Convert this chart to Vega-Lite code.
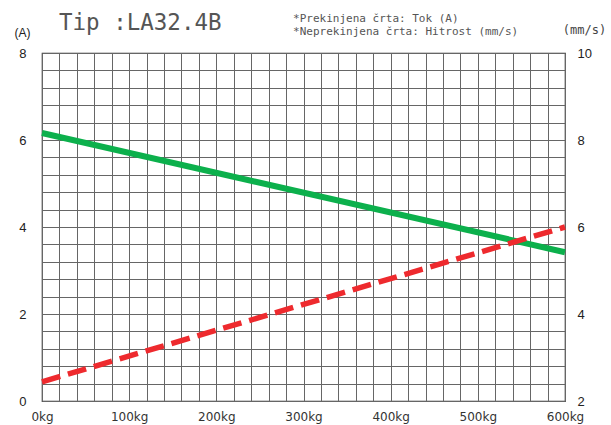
{
  "$schema": "https://vega.github.io/schema/vega-lite/v6.json",
  "width": 523,
  "height": 348,
  "autosize": {"type": "none"},
  "padding": {"left": 42, "top": 53, "right": 46, "bottom": 24},
  "background": "white",
  "config": {
    "font": "DejaVu Sans",
    "view": {"stroke": "#333", "strokeWidth": 1.2},
    "axis": {"labelFont": "DejaVu Sans", "titleFont": "DejaVu Sans", "labelColor": "#222", "titleColor": "#222"}
  },
  "datasets": {
    "current": [{"kg": 0, "a": 0.44}, {"kg": 600, "a": 4.0}],
    "speed": [{"kg": 0, "v": 8.16}, {"kg": 600, "v": 5.42}],
    "title": [{"t": "Tip :LA32.4B"}],
    "note1": [{"t": "*Prekinjena črta: Tok (A)"}],
    "note2": [{"t": "*Neprekinjena črta: Hitrost (mm/s)"}]
  },
  "layer": [
    {
      "data": {"name": "speed"},
      "mark": {"type": "line", "color": "#0cb04c", "strokeWidth": 6, "clip": false},
      "encoding": {
        "x": {
          "field": "kg", "type": "quantitative",
          "scale": {"domain": [0, 600], "nice": false},
          "axis": {
            "values": [0, 20, 40, 60, 80, 100, 120, 140, 160, 180, 200, 220, 240, 260, 280, 300, 320, 340, 360, 380, 400, 420, 440, 460, 480, 500, 520, 540, 560, 580, 600],
            "tickCount": 100,
            "labelExpr": "datum.value % 100 == 0 ? datum.value + 'kg' : ''",
            "labelOverlap": false,
            "labelBound": false,
            "labelFlush": false,
            "labelAlign": "center",
            "labelFontSize": 12,
            "labelFont": "DejaVu Sans",
            "labelColor": "#333",
            "labelPadding": 19,
            "labelBaseline": "alphabetic",
            "labelDx": 3,
            "grid": true,
            "gridColor": "#666",
            "gridOpacity": 1,
            "gridWidth": 1,
            "ticks": false,
            "domain": false,
            "title": null
          }
        },
        "y": {
          "field": "v", "type": "quantitative",
          "scale": {"domain": [2, 10], "nice": false, "zero": false},
          "axis": {
            "orient": "right",
            "values": [2, 4, 6, 8, 10],
            "grid": false,
            "ticks": false,
            "domain": false,
            "labelPadding": 12,
            "labelFontSize": 13,
            "labelFont": "Liberation Sans",
            "labelAlign": "left",
            "title": "(mm/s)",
            "titleFont": "DejaVu Sans Mono",
            "titleAngle": 0,
            "titleFontSize": 12,
            "titleFontWeight": "normal",
            "titleAlign": "center",
            "titleBaseline": "alphabetic",
            "titleX": 19,
            "titleY": -20,
            "titleColor": "#444"
          }
        }
      }
    },
    {
      "layer": [
        {
          "data": {"name": "current"},
          "mark": {"type": "line", "color": "#ee2a2e", "strokeWidth": 5.5, "strokeDash": [19, 8], "clip": false},
          "encoding": {
            "x": {"field": "kg", "type": "quantitative"},
            "y": {
              "field": "a", "type": "quantitative",
              "scale": {"domain": [0, 8], "nice": false},
              "axis": {
                "values": [0, 0.4, 0.8, 1.2, 1.6, 2, 2.4, 2.8, 3.2, 3.6, 4, 4.4, 4.8, 5.2, 5.6, 6, 6.4, 6.8, 7.2, 7.6, 8],
                "tickCount": 100,
                "labelExpr": "datum.value % 2 == 0 ? format(datum.value, 'd') : ''",
                "labelOverlap": false,
                "labelFontSize": 13,
                "labelFont": "Liberation Sans",
                "labelPadding": 16,
                "grid": true,
                "gridColor": "#666",
                "gridOpacity": 1,
                "gridWidth": 1,
                "ticks": false,
                "domain": false,
                "title": "(A)",
                "titleFont": "Liberation Sans",
                "titleAngle": 0,
                "titleFontSize": 12,
                "titleFontWeight": "normal",
                "titleAlign": "center",
                "titleBaseline": "alphabetic",
                "titleX": -20,
                "titleY": -17
              }
            }
          }
        },
        {
          "data": {"name": "title"},
          "mark": {"type": "text", "align": "left", "baseline": "alphabetic", "font": "DejaVu Sans Mono", "fontSize": 22.5, "color": "#555", "clip": false},
          "encoding": {
            "x": {"datum": 19.5, "type": "quantitative"},
            "y": {"datum": 8.52, "type": "quantitative"},
            "text": {"field": "t"}
          }
        },
        {
          "data": {"name": "note1"},
          "mark": {"type": "text", "align": "left", "baseline": "alphabetic", "font": "DejaVu Sans Mono", "fontSize": 11, "color": "#555", "clip": false},
          "encoding": {
            "x": {"datum": 288, "type": "quantitative"},
            "y": {"datum": 8.71, "type": "quantitative"},
            "text": {"field": "t"}
          }
        },
        {
          "data": {"name": "note2"},
          "mark": {"type": "text", "align": "left", "baseline": "alphabetic", "font": "DejaVu Sans Mono", "fontSize": 11, "color": "#555", "clip": false},
          "encoding": {
            "x": {"datum": 288, "type": "quantitative"},
            "y": {"datum": 8.41, "type": "quantitative"},
            "text": {"field": "t"}
          }
        }
      ]
    }
  ],
  "resolve": {"scale": {"y": "independent"}}
}
